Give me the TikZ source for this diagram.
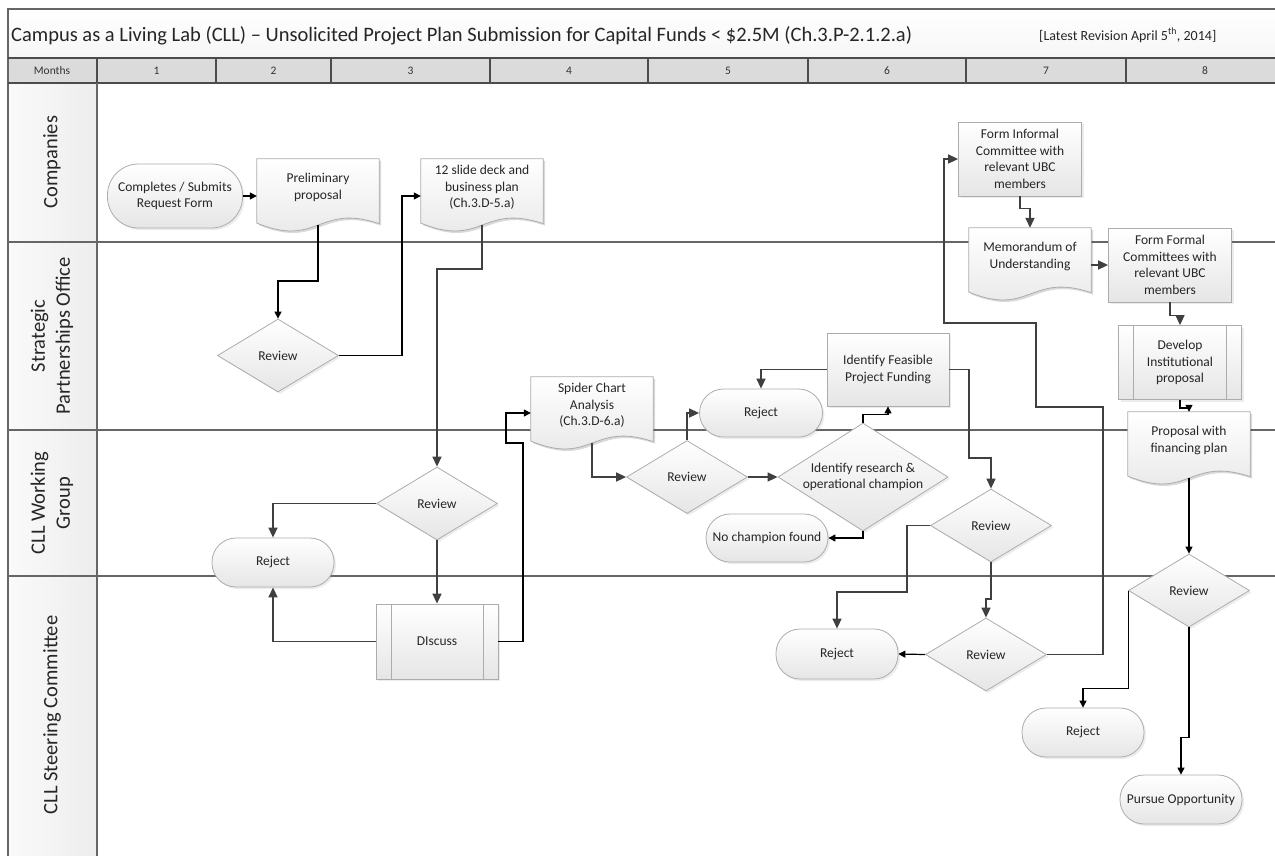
\documentclass[tikz,border=0pt]{standalone}
\usepackage{fontspec}
\setmainfont{Carlito}
\usetikzlibrary{arrows.meta, calc, shapes.geometric, shadows}

\pgfdeclarelayer{background}
\pgfdeclarelayer{docs}
\pgfsetlayers{background,docs,main}

\newcommand\nodefont{\fontsize{13.5}{16.5}\selectfont}
\newcommand\lanefont{\fontsize{20.5}{25}\selectfont}

% document outline with wavy bottom, round a doc node
\newcommand\docoutline[1]{(#1.north west) -- (#1.north east)
  -- ($(#1.north east)!1.13!(#1.south east)$)
  .. controls ($(#1.north)!0.77!(#1.south)$) and ($(#1.north)!1.56!(#1.south)$)
  .. ($(#1.north west)!1.12!(#1.south west)$) -- cycle}
\newcommand\docshape[1]{%
  \fill[black, opacity=0.15, transform canvas={xshift=2pt, yshift=-2pt}] \docoutline{#1};
  \path[draw=gray!65, line width=0.8pt, top color=white, bottom color=gray!20] \docoutline{#1};
  \coordinate (#1-b) at ($(#1.north)!1.146!(#1.south)$);
}

\begin{document}
\begin{tikzpicture}[
    x=1pt, y=-1pt,
    shape base/.style={draw=gray!65, line width=0.8pt, top color=white, bottom color=gray!20,
        drop shadow={opacity=0.15, shadow xshift=2pt, shadow yshift=-2pt},
        font=\nodefont, text=black!85, align=center, inner sep=2pt},
    process/.style={shape base, rectangle, minimum width=123pt, minimum height=74pt},
    subprocess/.style={process, path picture={
        \draw[gray!65, line width=0.8pt]
          ([xshift=15pt]path picture bounding box.north west) -- ([xshift=15pt]path picture bounding box.south west)
          ([xshift=-15pt]path picture bounding box.north east) -- ([xshift=-15pt]path picture bounding box.south east);}},
    decision/.style={shape base, diamond, minimum width=121pt, minimum height=73pt, inner sep=0pt},
    terminal/.style={shape base, rectangle, rounded corners=24pt, minimum width=122pt, minimum height=49pt},
    doc/.style={rectangle, minimum width=122pt, minimum height=57pt, inner sep=0pt,
        font=\nodefont, text=black!85, align=center},
    flow/.style={draw=black!75, line width=1.5pt, -{Triangle[length=10pt, width=9pt]}},
    link/.style={draw=black, line width=1.2pt, -{Triangle[length=7pt, width=7pt]}},
    lane/.style={draw=black!60, line width=1.4pt},
    head/.style={font=\fontsize{11.5}{13}\selectfont, text=black!80},
    lanelabel/.style={rotate=90, font=\lanefont, text=black!85, align=center}
]
   \useasboundingbox (0,0) rectangle (1275,855);

   % Frame, month header and lanes
   \begin{pgfonlayer}{background}
     \path[top color=white, bottom color=gray!7] (8,9) rectangle (1300,58);
     \path[fill=gray!28] (8,58) rectangle (1300,83);
     \path[left color=gray!4, right color=gray!14] (8,83) rectangle (97,870);
     \draw[line width=1.8pt, draw=black!60] (1300,9) -- (8,9) -- (8,870);
     \draw[line width=1.6pt, draw=black!70] (8,58) -- (1300,58) (8,83) -- (1300,83);
     \foreach \x in {97,216,331,490,648,808,966,1126}
        \draw[line width=1.6pt, draw=black!70] (\x,58) -- (\x,83);
     \draw[lane] (97,83) -- (97,870);
     \foreach \y in {242,430,576}
        \draw[lane] (8,\y) -- (1300,\y);
   \end{pgfonlayer}

   \node[anchor=base west, inner sep=0pt, font=\fontsize{20.5}{24}\selectfont, text=black!85] (title) at (11,41)
      {Campus as a Living Lab (CLL) -- Unsolicited Project Plan Submission for Capital Funds < \$2.5M (Ch.3.P-2.1.2.a)};
   \node[anchor=base west, inner sep=0pt, font=\fontsize{14}{16}\selectfont, text=black!85] (revision) at (1039,40)
      {[Latest Revision April 5\textsuperscript{th}, 2014]};

   \node[head] (months) at (52,71) {Months};
   \foreach \m/\x in {1/156.5, 2/273.5, 3/410.5, 4/569, 5/728, 6/887, 7/1046, 8/1205}
      \node[head] (month\m) at (\x,71) {\m};

   \node[lanelabel] (companies) at (52,162) {Companies};
   \node[lanelabel] (spo) at (52,336) {Strategic\\Partnerships Office};
   \node[lanelabel] (workgroup) at (52,503) {CLL Working\\Group};
   \node[lanelabel] (steering) at (52,715) {CLL Steering Committee};

   % Companies
   \node[terminal, rounded corners=31pt, minimum width=135pt, minimum height=64pt] (req) at (175,196) {Completes / Submits\\Request Form};
   \node[doc] (prelim) at (318,187.5) {Preliminary\\proposal};
   \node[doc] (deck) at (482,187.5) {12 slide deck and\\business plan\\(Ch.3.D-5.a)};
   \node[process] (inf) at (1020,159) {Form Informal\\Committee with\\relevant UBC\\members};

   % Strategic Partnerships Office
   \node[decision] (rev1) at (278,355.5) {Review};
   \node[doc] (mou) at (1030,256.5) {Memorandum of\\Understanding};
   \node[process] (formal) at (1170,265) {Form Formal\\Committees with\\relevant UBC\\members};
   \node[subprocess] (dev) at (1180,362.5) {Develop\\Institutional\\proposal};
   \node[process, minimum width=122pt, minimum height=73pt] (fund) at (888,369.5) {Identify Feasible\\Project Funding};
   \node[terminal, minimum width=123pt, minimum height=48pt] (rej2) at (761,413) {Reject};
   \node[doc] (spider) at (592,405.5) {Spider Chart\\Analysis\\(Ch.3.D-6.a)};

   % CLL Working Group
   \node[decision] (rev2) at (437,503.5) {Review};
   \node[terminal] (rej1) at (273,562.5) {Reject};
   \node[decision] (rev3) at (687,477) {Review};
   \node[decision, minimum width=170pt, minimum height=108pt, aspect=1.57] (champ) at (863,477) {Identify research \&\\operational champion};
   \node[terminal, minimum height=48pt] (nochamp) at (767,538) {No champion found};
   \node[decision] (rev4) at (991,525.5) {Review};
   \node[doc] (plan) at (1189,440.5) {Proposal with\\financing plan};

   % CLL Steering Committee
   \node[subprocess, minimum width=122pt, minimum height=75pt] (disc) at (437,641.5) {DIscuss};
   \node[decision] (rev5) at (986,654.5) {Review};
   \node[terminal, minimum height=50pt] (rej3) at (837,654) {Reject};
   \node[decision] (rev6) at (1189,590.5) {Review};
   \node[terminal] (rej4) at (1083,732.5) {Reject};
   \node[terminal] (pursue) at (1181,799.5) {Pursue Opportunity};

   % Document outlines
   \begin{pgfonlayer}{docs}
     \foreach \d in {prelim, deck, spider, mou, plan}
        {\docshape{\d}}
   \end{pgfonlayer}

   % Connectors
   \draw[link] (req.east) -- (req.east -| prelim.west);
   \draw[link] (prelim-b) |- (278,281) -- (rev1.north);
   \draw[link] (rev1.east) -| (402,196) -- ([yshift=-8.5pt]deck.west);
   \draw[flow] (deck-b) |- (437,269) -- (rev2.north);
   \draw[flow] (rev2.west) -| (rej1.north);
   \draw[flow] (rev2.south) -- (disc.north);
   \draw[flow] (disc.west) -| (rej1.south);
   \draw[link] (disc.east) -| (523,443) -| (506,413) -- ([yshift=-7.5pt]spider.west);
   \draw[flow] (spider-b) |- (rev3.west);
   \draw[flow] (rev3.north) |- (rej2.west);
   \draw[flow] (rev3.east) -- (champ.west);
   \draw[link] (champ.north) -- ++(0,-8) -| (fund.south);
   \draw[flow] (fund.west) -| (rej2.north);
   \draw[flow] (fund.east) -| (969,458) -| (rev4.north);
   \draw[link] (champ.south) |- (nochamp.east);
   \draw[flow] (rev4.west) -| (907,592) -| (rej3.north);
   \draw[flow] (rev4.south) |- (986,599) -- (rev5.north);
   \draw[link] (rev5.west) -- (rej3.east);
   \draw[flow] (rev5.east) -| (1103,407) -| (1036,323) -| (944,159) -- (inf.west);
   \draw[flow] (inf.south) -- ++(0,12) -| (mou.north);
   \draw[flow] (mou.east |- formal.west) -- (formal.west);
   \draw[flow] (formal.south) -- ++(0,13) -| (dev.north);
   \draw[link] (dev.south) -- ++(0,8) -| (plan.north);
   \draw[link] (plan-b) -- (rev6.north);
   \draw[link] (rev6.west) -- ++(0,98) -| (rej4.north);
   \draw[link] (rev6.south) -- ++(0,110) -| (pursue.north);
\end{tikzpicture}
\end{document}
